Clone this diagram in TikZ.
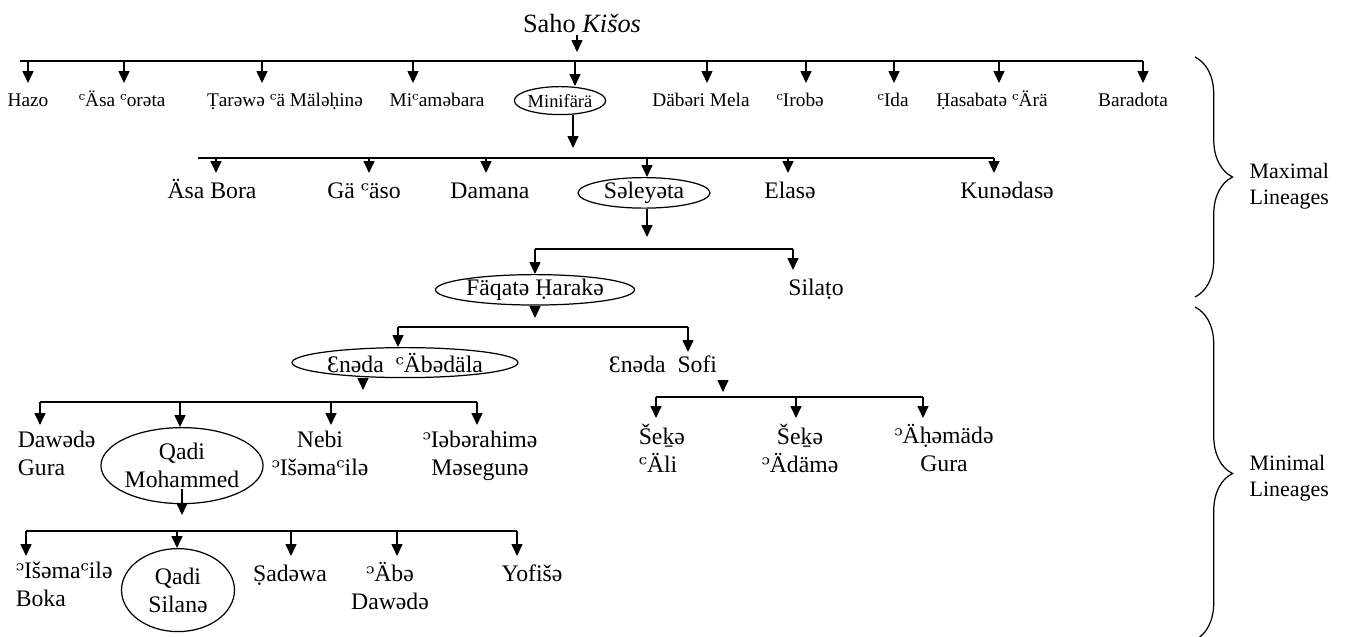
\documentclass[tikz,border=0pt]{standalone}
\usepackage{fontspec}
\setmainfont{Liberation Serif}
\newfontfamily\markfont{DejaVu Serif}
\newcommand{\ayn}{{\markfont ᶜ}}
\newcommand{\hmz}{{\markfont ᵓ}}
\usetikzlibrary{arrows.meta,positioning,shapes.geometric,decorations.pathreplacing}

\begin{document}
\begin{tikzpicture}[x=0.02cm, y=-0.02cm, line width=0.9pt,
  >={Triangle[length=2.4mm,width=2.2mm]},
  kin/.style={anchor=north, align=center, inner xsep=0pt, inner ysep=3pt,
    font=\fontsize{13.5}{16}\selectfont, execute at begin node=\strut},
  clan/.style={kin, inner ysep=4pt, font=\fontsize{11}{13}\selectfont},
  oval/.style n args={2}{ellipse, draw, line width=0.7pt, anchor=north, align=center,
    inner sep=0pt, minimum width=#1, minimum height=#2, font=\fontsize{13.5}{16}\selectfont},
  feed/.style={->, shorten >=#1}, feed/.default=2mm]
  \useasboundingbox (0,0) rectangle (1349,636);

  % maximal lineages
  \node[font=\fontsize{15}{18}\selectfont, anchor=base, inner sep=1pt] (saho) at (582,32) {Saho \textit{Kišos}};
  \coordinate (b1) at (20,61); \coordinate (e1) at (1143,61);
  \foreach \n/\x/\txt in {hazo/28/Hazo, asa/122/{\ayn Äsa \ayn orəta}, tarewa/285/{Ṭarəwə \ayn ä Mäləḥinə},
      miama/437/{Mi\ayn aməbara}, dabe/701/{Däbəri Mela}, irob/800/{\ayn Irobə}, ida/893/{\ayn Ida},
      hasa/992/{Ḥasabatə \ayn Ärä}, bara/1133/Baradota}
    \node[clan] (\n) at (\x,83) {\txt};
  \node[oval={1.72cm}{0.56cm}, font=\fontsize{10.5}{12}\selectfont] (mini) at (560,86) {Minifärä};
  \draw (b1) -- (e1);
  \draw[feed=1.8mm] ([xshift=-0.1cm]saho.south) -- ([xshift=-0.1cm]saho.south |- b1);
  \foreach \p/\d in {hazo/0, asa/2, tarewa/-23, miama/-24, mini/15, dabe/6, irob/6, ida/1, hasa/7, bara/10}
    \draw[->] ([xshift=\d*0.02cm]\p.north |- b1) -- ([xshift=\d*0.02cm]\p.north);

  \coordinate (b2) at (198,158); \coordinate (e2) at (994,158);
  \foreach \n/\x/\txt in {asab/212/Äsa Bora, gaas/364/{Gä \ayn äso}, dama/490/Damana, elas/790/Elasə, kuna/1007/Kunədasə}
    \node[kin] (\n) at (\x,173) {\txt};
  \node[oval={2.64cm}{0.6cm}] (sele) at (644,177) {Səleyəta};
  \draw (b2) -- (e2);
  \draw[feed] ([xshift=0.26cm]mini.south) -- ([xshift=0.26cm]mini.south |- b2);
  \foreach \p/\d in {asab/4, gaas/5, dama/-4, sele/3, elas/-2, kuna/-13}
    \draw[->] ([xshift=\d*0.02cm]\p.north |- b2) -- ([xshift=\d*0.02cm]\p.north);

  \coordinate (b3) at (535,249); \coordinate (e3) at (793,249);
  \node[oval={3.98cm}{0.48cm}] (faqa) at (535,274) {Fäqatə Ḥarakə};
  \node[kin] (sila) at (816,270) {Silaṭo};
  \draw (b3) -- (e3);
  \draw[feed=2.4mm] ([xshift=0.06cm]sele.south) -- ([xshift=0.06cm]sele.south |- b3);
  \foreach \p/\d in {faqa/0, sila/-23}
    \draw[->] ([xshift=\d*0.02cm]\p.north |- b3) -- ([xshift=\d*0.02cm]\p.north);

  % minimal lineages
  \coordinate (b4) at (398,327); \coordinate (e4) at (688,327);
  \node[oval={4.52cm}{0.6cm}] (enab) at (405,347) {Ɛnəda\ \ \ayn Äbədäla};
  \node[kin, inner ysep=0pt] (sofi) at (663,352) {Ɛnəda\ \ Sofi};
  \draw (b4) -- (e4);
  \draw[feed=1.8mm] (faqa.south) -- (faqa.south |- b4);
  \foreach \p/\d in {enab/-7, sofi/25}
    \draw[->] ([xshift=\d*0.02cm]\p.north |- b4) -- ([xshift=\d*0.02cm]\p.north);

  \coordinate (b5) at (40,402); \coordinate (e5) at (477,402);
  \node[kin, anchor=north west, align=left] (dawe) at (17,425) {Dawədə\\Gura};
  \node[oval={2.88cm}{1.52cm}] (qmoh) at (182,427) {Qadi\\Mohammed};
  \node[kin] (nebi) at (320,425) {Nebi\\\hmz Išəma\ayn ilə};
  \node[kin] (ibra) at (480,425) {\hmz Iəbərahimə\\Məsegunə};
  \draw (b5) -- (e5);
  \draw[feed=2.4mm] ([xshift=-0.84cm]enab.south) -- ([xshift=-0.84cm]enab.south |- b5);
  \foreach \p/\d in {dawe.north west/23, qmoh.north/-2, nebi.north/11, ibra.north/-3}
    \draw[->] ([xshift=\d*0.02cm]\p |- b5) -- ([xshift=\d*0.02cm]\p);

  \coordinate (b6) at (656,397); \coordinate (e6) at (923,397);
  \node[kin, anchor=north west, align=left] (sali) at (638,418) {Šeḵə\\\ayn Äli};
  \node[kin] (sadm) at (800,418) {Šeḵə\\\hmz Ädämə};
  \node[kin] (ahma) at (944,418) {\hmz Äḥəmädə\\Gura};
  \draw (b6) -- (e6);
  \draw[feed=1mm] ([xshift=1.2cm]sofi.south) -- ([xshift=1.2cm]sofi.south |- b6);
  \foreach \p/\d in {sali.north west/18, sadm.north/-4, ahma.north/-21}
    \draw[->] ([xshift=\d*0.02cm]\p |- b6) -- ([xshift=\d*0.02cm]\p);

  \coordinate (b7) at (26,531); \coordinate (e7) at (517,531);
  \node[kin, anchor=north west, align=left] (isbo) at (15,556) {\hmz Išəma\ayn ilə\\Boka};
  \node[oval={2.26cm}{1.66cm}] (qsil) at (178,548) {Qadi\\Silanə};
  \node[kin] (sadw) at (290,556) {Ṣadəwa};
  \node[kin] (abda) at (390,556) {\hmz Äbə\\Dawədə};
  \node[kin] (yofi) at (532,556) {Yofišə};
  \draw (b7) -- (e7);
  \draw[feed=3.2mm] ([yshift=3mm]qmoh.south) -- (qmoh.south |- b7);
  \foreach \p/\d in {isbo.north west/11, qsil.north/-1, sadw.north/1, abda.north/7, yofi.north/-15}
    \draw[->] ([xshift=\d*0.02cm]\p |- b7) -- ([xshift=\d*0.02cm]\p);

  % braces
  \coordinate (m1) at (1195,57); \coordinate (m2) at (1195,297);
  \coordinate (n1) at (1195,307); \coordinate (n2) at (1195,640);
  \draw[line width=0.7pt, decorate, decoration={brace, amplitude=0.75cm}] (m1) -- (m2);
  \draw[line width=0.7pt, decorate, decoration={brace, amplitude=0.75cm}] (n1) -- (n2);
  \node[anchor=west, align=left, font=\fontsize{12.5}{15}\selectfont] (maxl) at (1243,186) {Maximal\\Lineages};
  \node[anchor=west, align=left, font=\fontsize{12.5}{15}\selectfont] (minl) at (1243,478) {Minimal\\Lineages};
\end{tikzpicture}
\end{document}
